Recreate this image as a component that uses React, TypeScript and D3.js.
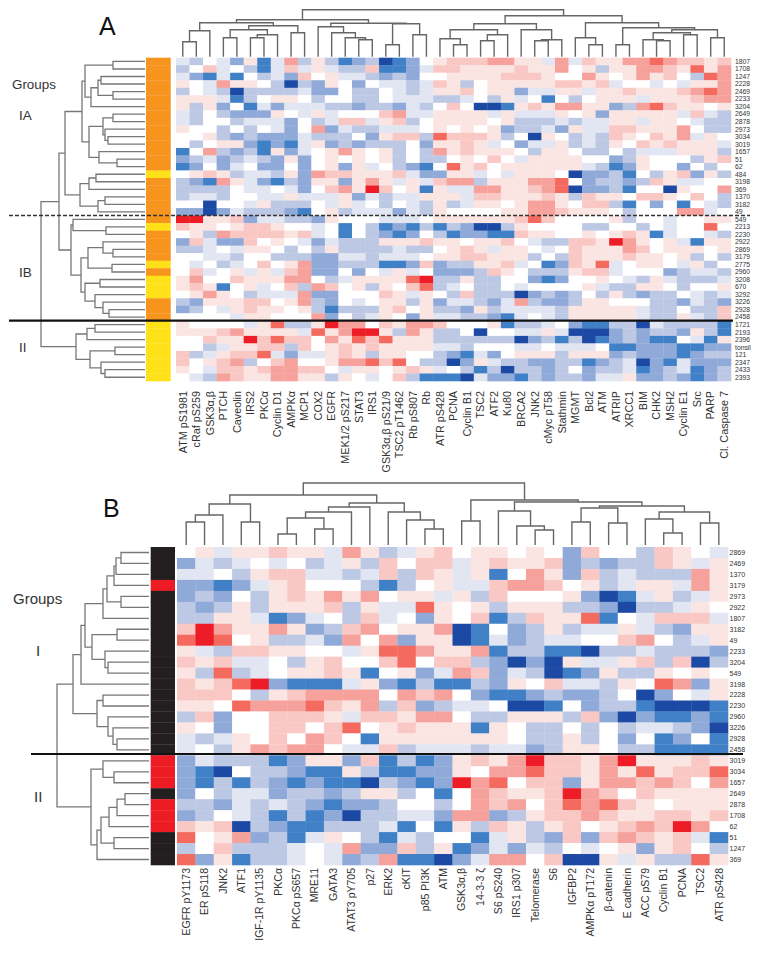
import React from 'react';
import * as d3 from 'd3';

// --- panel A ---
const rowsA = ['1807','1708','1247','2228','2469','2233','3204','2649','2878','2973','3034','3019','1657','51','62','484','3198','369','1370','3182','49','549','2213','2230','2922','2869','3179','2775','2960','3208','670','3292','3226','2928','2458','1721','2193','2396','tonsil','121','2347','2433','2393'];
const colsA = ['ATM pS1981','cRaf pS259','GSK3α,β','PTCH','Caveolin','IRS2','PKCα','Cyclin D1','AMPKα','MCP1','COX2','EGFR','MEK1/2 pS217','STAT3','IRS1','GSK3α,β pS21/9','TSC2 pT1462','Rb pS807','Rb','ATR pS428','PCNA','Cyclin B1','TSC2','ATF2','Ku80','BRCA2','JNK2','cMyc pT58','Stathmin','MGMT','Bcl2','ATM','ATRIP','XRCC1','BIM','CHK2','MSH2','Cyclin E1','Src','PARP','Cl. Caspase 7'];
// a..e = blue levels, 1..5 = red levels, '.' = white
const cellsA = [
  'ab.ac1da3b1bdcbedc.1' + '2223311a3a21133432212',
  'b.2a.bda2a1abb2ddca2' + '211112113.1b113321413',
  'acdad.bac2.1aabcbc..' + '11112221..31.1312.b43',
  '1.a311.bebc1.c.aaba2' + '1b.111112212a..a.a113',
  'b.abebbbbacc.bb.aba1' + '12.11caa11a1121112343',
  '111adb.11.b..bb.aaab' + 'ba.b1a.d.b.111a111233',
  '1b1c.dacaaabbcbbcab.' + '2.eed1213311cb34211.1',
  'ab.bccc1.a1a...23aa1' + '111a1aaa1.1c11111a2ab',
  'ab..baaac.ba22a12b.1' + '111.1bbbabaa11a11.abb',
  '1..b.b.ac.3cabbaaa.1' + '.1.1cbbac1aa221113.bb',
  '..1bcbcccabbb.c122b4' + '2221b.e1.bab21.213a1.',
  '.b.11cdcda1cbcbbb.c1' + '121a.caa1bab1.212111a',
  'd.3bcbd1ca.131.1b.b3' + '12111.b11.bb.baaa111b',
  'cbacbabc1c.1.1.1b.bb' + '.1.2.a1111..cb1...b12',
  'dc.ca.cc.c.1c1a.bcd.' + '412.111111abdc1..c.b.',
  '.121baab1c3221112acc' + '11a.a111.eccbd.b12c1b',
  'bcd31acdbc11c131a1a2' + '33b111334.cbbcb21aa..',
  'bbbb.aa.ac.23152.1d1' + 'aa3311234eccbd..e1..3',
  'baab..aa1aaa1cabaa11' + '1a2211121b211.221.2.b',
  '..e..a1bbb.a1a.b.ab1' + 'ba11.1331.22bd.c.d.ab',
  'ccecabbbcd.1baaacab1' + '....11332111.b...33a.',
  '55112caabbc1...aaa.1' + '11111242....1b..a..11',
  '211.1221..a.d.bdcdbd' + 'bceeb1....bb..b.a..4.',
  '.1b3222212a.d.bcdc.b' + 'dccdd211..1.121da..ab',
  'c2acc2.1.acabbb11121' + '1.112.abb221531.1ad11',
  'bba.a11.b.b1bbbbabb.' + '121a11.a.211132.111.1',
  '..aab..bbbccaabaaa.1' + '122111b.b2111211.1b.b',
  '.a.ba.2.13ccbbbddc2c' + 'bb112a.dc214a.11.a1b.',
  '.2a.1a1a23cc.c.a1a.c' + 'ccb21.bbb122a...cbaab',
  '13..211133.ba111145b' + 'b1bb..cdc..1.ab1abbba',
  '121d.1a.2b32.1b1.24b' + 'a.bb.a....1abb11.b..1',
  '.131.baaa3cc...21a1.' + 'b2bbbecbcb.b1bcbb.aba',
  'bc11122.13bc.a.11b1c' + 'aabca3bccb11...bbcabc',
  'cb.a1211.1bdbbb12.1b' + 'bc1baaaab11111abb.bb2',
  '....a11...3c.ba1.c1a' + 'abbcda.ab11111abb1ab2',
  '1....a14bb1533.21332' + '...1dbba.cddbbeabbbbd',
  '111231111a413551b31b' + 'b.e..aa1aeeecbcbbc1bd',
  '..21152422.31424111b' + 'bbbbbecbdbedcbcdd.ad1',
  '..ba1122b2.12121111a' + 'ab...aa.aaa.ddcccddcc',
  '2ba1224acaa121b11..b' + 'cdac.111b111cbcccdcbb',
  '2.123b.23..133424.bb' + 'ec1abbccbbdcbaecdaccc',
  '1.a22123322.a11.121a' + '.bdbebbcb.cbbadcbadcb',
  '.ab32113311b1.a.2bdd' + 'deaccdbcbbcaa1ccbcdcb',
];
const groupsA = 'ooooooooooooooo' + 'y' + 'oooooo' + 'y' + 'oooo' + 'y' + 'o' + 'yyy' + 'ooo' + 'yyyyyyyy';

// trees are [merge height, left, right], a bare number is a leaf index
const treeATop = [47,
  [37,
    [34, [26, [15, 0, 1], 2], [31, [27, [19, 3, 4], [22, [19, 5, 6], 7]], [24, 8, 9]]],
    [33.5, [30, 10, [24, 11, [19, 12, [17, 13, 14]]]], [33, [12, 15, 16], [22, 17, 18]]]],
  [41,
    [33,
      [27, [18, 19, [12, 20, 21]], [22, [16, 22, 23], 24]],
      [27, 25, [17, [16, 26, 27], 28]]],
    [34,
      [19, 29, [12, 30, 31]],
      [29, [12, 32, 33], [27, [24, [17, 34, [16, 35, 36]], [22, 37, 38]], [19, 39, 40]]]]]];

const treeALeft = [104,
  [86,
    [80,
      [63,
        [60, [32, 0, 1], [54, [47, [44, 2, 3], [32, 4, 5]], 6]],
        [56, [42, [32, 7, 8], [40, 9, [37, 10, 11]]], [46, 12, [28, 13, 14]]]],
      [65, [56, [49, 15, 16], 17], [47, [40, 18, 19], 20]]],
    [74,
      [72, 21, [39, 22, 23]],
      [64,
        [57, [42, 24, [32, 25, 26]], [33, 27, 28]],
        [60, [45, 29, 30], [50, 31, [42, 32, [36, 33, 34]]]]]]],
  [69,
    [58, [50, 35, 36], 37],
    [55, [30, 38, 39], [44, 40, [40, 41, 42]]]]];

// --- panel B ---
const rowsB = ['2869','2469','1370','3179','2973','2922','1807','3182','49','2233','3204','549','3198','2228','2230','2960','3226','2928','2458','3019','3034','1657','2649','2878','1708','62','51','1247','369'];
const colsB = ['EGFR pY1173','ER pS118','JNK2','ATF1','IGF-1R pY1135','PKCα','PKCα pS657','MRE11','GATA3','ATAT3 pY705','p27','ERK2','cKIT','p85 PI3K','ATM','GSK3α,β','14-3-3 ζ','S6 pS240','IRS1 p307','Telomerase','S6','IGFBP2','AMPKα pT172','β-catenin','E cadherin','ACC pS79','Cyclin B1','PCNA','TSC2','ATR pS428'];
const cellsB = [
  '.1a11211a3' + '1ba12.11.1' + '.c2..b21.a',
  'caba.a.ba1' + 'b2.22a1211' + '2cbcbb21a1',
  'aa.b122aab' + 'a2b21a1d.3' + '1c2babbb31',
  'ccdca12...' + 'bdb.1aa233' + '2.1ba11a31',
  'cbc.b12131' + '3.11a1b2..' + '.1ceda1ba1',
  'bcb1b1112b' + '1aa41.1b11' + '1bbcebba1.',
  'bb11adca.b' + '2a.c1.2db2' + '114d.a222a',
  '2531131cb2' + '3.113ed.cb' + '1baa1abc11',
  '454.1bbac3' + '.3c11edacb' + 'aa..23.ba1',
  '1ab2211..a' + '1443113dbb' + 'ddebbabbbc',
  '212aa.b12.' + '.24.22bcec' + 'e1aa12b2eb',
  '1b4ba.1121' + 'd.1ca32cab' + 'edc1bb1.1.',
  '21245cddda' + '1cdbddbc1.' + '2aab1.43c1',
  '222.b12333' + '3.323.cddc' + 'bccb.ec.a1',
  '11.4333421' + '3b2cbaa.ee' + 'd.cbbdeeed',
  'b2c..2221a' + '22133.bb11' + '1b2cecddcd',
  '1.c..22.24' + '.12111d1.b' + 'b.b.baabce',
  'aba1.2.32.' + 'd1111111.b' + 'b1b.c.dc.d',
  'a.b13233.a' + 'a2baaabaac' + 'b11.bbdddd',
  'cabbbdc11c' + '2dbdc12135' + '2213511121',
  'cde.bbcdd1' + 'bddcc1.334' + '2213141224',
  'cdbdbcdcdd' + 'ebcdc534.2' + '2c133232.3',
  'c.baacbbcb' + '11b.d.3211' + '2532.21111',
  'bbcababcdc' + 'cb..b.323.' + '243421.111',
  'cb.abdbdce' + 'bbaac33cb1' + '2232112212',
  '212ebcddbb' + 'bad.d1b21b' + '12.123253.',
  '4.13cbda1.' + 'bdab..da1b' + 'c2c23212ad',
  'b.2bbba.a3' + 'cc2b1dcaca' + 'b.a.1c12.b',
  '4c1dbba.ac' + 'b3ddeca33.' + '2ee1a1bb41',
];
const groupsB = 'kkk' + 'r' + 'kkkkkkkkkkkkkkk' + 'rrr' + 'k' + 'rrr' + 'kkk';

const treeBTop = [62,
  [50,
    [41, [30, [23, 0, 1], 2], [23, 3, 4]],
    [42,
      [38, [33, [27, [11, 5, 6], [16, 7, 8]], 9], 10],
      [33, 11, [25, 12, [16, 13, 14]]]]],
  [45,
    [24, 15, 16],
    [43,
      [34, 17, [19, 18, [15, 19, 20]]],
      [39,
        [37, [23, 21, 22], [22, 23, 24]],
        [33, [26, 25, [12, 26, 27]], [22, 28, 29]]]]]];

const treeBLeft = [92,
  [76,
    [68,
      [64,
        [46, [42, [35, [33, [28, 0, 1], 2], 3], [28, 4, 5]], 6],
        [57, [32, 7, 8], [44, 9, [41, 10, 11]]]],
      12],
    [52, [46, 13, 14], [41, 15, [36, 16, [32, 17, 18]]]]],
  [58,
    [46, 19, [35, 20, 21]],
    [52,
      [48, [40, [32, [24, 22, 23], 24], 25], [35, 26, 27]],
      28]]];

const levels = '.12345';
const blues = '.abcde';
const heatColor = d3.scaleLinear<string>()
  .domain([-5, -4, -3, -2, -1, 0, 1, 2, 3, 4, 5])
  .range(['#1a48a4', '#3f80c6', '#8fa9d8', '#bcc8e4', '#e1e6f2', '#ffffff', '#fbe5e3', '#f9c8c5', '#f6a19b', '#f46a5f', '#ee1c25']);
const cellValue = (c: string) => (blues.indexOf(c) > 0 ? -blues.indexOf(c) : Math.max(levels.indexOf(c), 0));
const groupColor: Record<string, string> = { o: '#f7941e', y: '#ffe11a', k: '#231f20', r: '#ed1c24' };

// walks a tree and gives back the elbow paths in (along, height) coordinates
function elbows(tree: any, band: d3.ScaleBand<number>, hs: d3.ScaleLinear<number, number>, horizontal: boolean) {
  const path = d3.path();
  const pt = (along: number, h: number): [number, number] => (horizontal ? [along, hs(h)] : [hs(h), along]);
  const walk = (node: any): { pos: number; h: number } => {
    if (typeof node === 'number') return { pos: band(node)! + band.bandwidth() / 2, h: 0 };
    const [h, left, right] = node;
    const a = walk(left);
    const b = walk(right);
    path.moveTo(...pt(a.pos, a.h));
    path.lineTo(...pt(a.pos, h));
    path.lineTo(...pt(b.pos, h));
    path.lineTo(...pt(b.pos, b.h));
    return { pos: (a.pos + b.pos) / 2, h };
  };
  walk(tree);
  return path.toString();
}

const FONT = '"Liberation Sans", Arial, sans-serif';

const Heatmap: React.FC<{
  rows: string[]; cols: string[]; cells: string[]; groups: string;
  topTree: any; leftTree: any;
  x0: number; x1: number; y0: number; y1: number;
  barX0: number; barX1: number; topBase: number; topMax: number; topY: number; leftBase: number; leftMax: number; leftX: number;
  rowLabelX: number; colLabelY: number; rowFont: number; colFont: number;
}> = (p) => {
  const x = d3.scaleBand<number>().domain(d3.range(p.cols.length)).range([p.x0, p.x1]);
  const y = d3.scaleBand<number>().domain(d3.range(p.rows.length)).range([p.y0, p.y1]);
  const topH = d3.scaleLinear().domain([0, p.topMax]).range([p.topBase, p.topY]);
  const leftH = d3.scaleLinear().domain([0, p.leftMax]).range([p.leftBase, p.leftX]);
  return (
    <g>
      <path d={elbows(p.topTree, x, topH, true)} fill="none" stroke="#666" strokeWidth={1.4} />
      <path d={elbows(p.leftTree, y, leftH, false)} fill="none" stroke="#777" strokeWidth={1.3} />
      {p.rows.map((_, r) => (
        <rect key={r} x={p.barX0} y={y(r)} width={p.barX1 - p.barX0} height={y.bandwidth() + 0.3} fill={groupColor[p.groups[r]]} />
      ))}
      <g filter="url(#soft)">
        {p.cells.map((row, r) =>
          Array.from(row).map((c, k) => (
            <rect key={`${r}-${k}`} x={x(k)} y={y(r)} width={x.bandwidth() + 0.3} height={y.bandwidth() + 0.3} fill={heatColor(cellValue(c))} />
          )),
        )}
      </g>
      {p.rows.map((t, r) => (
        <text key={t + r} x={p.rowLabelX} y={y(r)! + y.bandwidth() / 2} dy="0.35em" fontSize={p.rowFont} fill="#333">{t}</text>
      ))}
      {p.cols.map((t, k) => (
        <text key={t + k} textAnchor="end" dy="0.35em" fontSize={p.colFont} fill="#333"
          transform={`translate(${x(k)! + x.bandwidth() / 2},${p.colLabelY}) rotate(-90)`}>{t}</text>
      ))}
    </g>
  );
};

export default function App() {
  return (
    <svg width={762} height={953} style={{ position: 'absolute', left: 0, top: 0, background: '#fff' }} fontFamily={FONT}>
      <defs>
        {/* the reference is a soft scan, cell edges are not crisp */}
        <filter id="soft"><feGaussianBlur stdDeviation={0.5} /></filter>
      </defs>
      <Heatmap rows={rowsA} cols={colsA} cells={cellsA} groups={groupsA} topTree={treeATop} leftTree={treeALeft}
        x0={176} x1={731} y0={57.7} y1={381} barX0={146} barX1={170.7}
        topBase={56.7} topMax={47} topY={9.7} leftBase={145} leftMax={104} leftX={41}
        rowLabelX={735} colLabelY={391} rowFont={6.8} colFont={10.8} />
      <Heatmap rows={rowsB} cols={colsB} cells={cellsB} groups={groupsB} topTree={treeBTop} leftTree={treeBLeft}
        x0={177} x1={728} y0={547} y1={865} barX0={150.7} barX1={175}
        topBase={545} topMax={62} topY={483} leftBase={149} leftMax={92} leftX={57}
        rowLabelX={729.5} colLabelY={868} rowFont={7} colFont={10.5} />

      <line x1={9} x2={750} y1={215.5} y2={215.5} stroke="#333" strokeWidth={1.3} strokeDasharray="4 2" />
      <line x1={9} x2={733} y1={320.7} y2={320.7} stroke="#111" strokeWidth={2.2} />
      <line x1={31} x2={743} y1={754} y2={754} stroke="#111" strokeWidth={2.2} />

      <text x={99} y={35} fontSize={25} fill="#111">A</text>
      <text x={103} y={517} fontSize={25} fill="#111">B</text>
      <text x={12} y={89} fontSize={13.4} fill="#333">Groups</text>
      <text x={19} y={120} fontSize={13.5} fill="#333">IA</text>
      <text x={19} y={276.5} fontSize={13.5} fill="#333">IB</text>
      <text x={19} y={352} fontSize={13.5} fill="#333">II</text>
      <text x={13} y={604} fontSize={15} fill="#333">Groups</text>
      <text x={36} y={656} fontSize={15} fill="#333">I</text>
      <text x={34} y={802} fontSize={15} fill="#333">II</text>
    </svg>
  );
}
